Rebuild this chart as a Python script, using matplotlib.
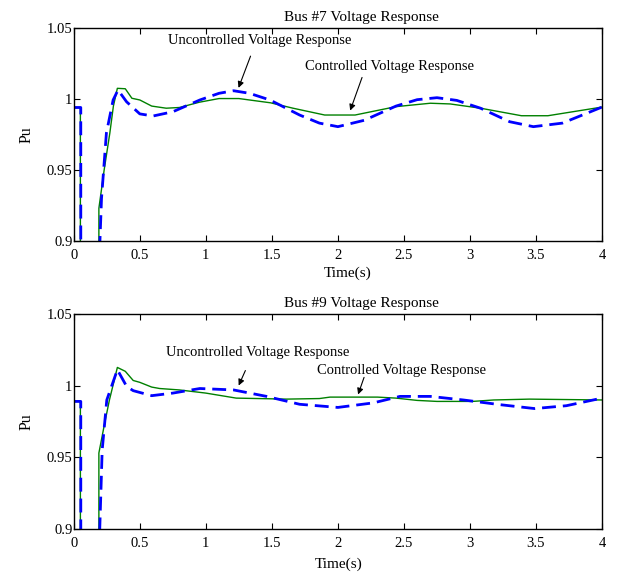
import matplotlib
matplotlib.use("Agg")
import matplotlib.pyplot as plt

# Bus #7 data
t7_ctrl = [0, 0.05, 0.0501, 0.19, 0.1901, 0.23, 0.273, 0.30, 0.33, 0.39, 0.44, 0.5, 0.59, 0.7, 0.8,
           0.95, 1.1, 1.25, 1.49, 1.66, 1.9, 2.13, 2.44, 2.7, 2.85, 3.08, 3.39, 3.59, 4.0]
v7_ctrl = [0.994, 0.994, 0.85, 0.85, 0.923, 0.950, 0.976, 0.995, 1.0075, 1.0072, 1.0005, 0.9993, 0.995, 0.9935, 0.994,
           0.9977, 1.0003, 1.0003, 0.9973, 0.9935, 0.9887, 0.9887, 0.9946, 0.997, 0.9965, 0.9935, 0.9882, 0.9882, 0.9943]
t7_unc = [0, 0.053, 0.0531, 0.19, 0.19, 0.21, 0.247, 0.298, 0.335, 0.4, 0.5, 0.6, 0.75, 0.955, 1.1,
          1.21, 1.33, 1.485, 1.71, 1.86, 2.0, 2.2, 2.44, 2.6, 2.75, 2.9, 3.08, 3.3, 3.48, 3.7, 4.0]
v7_unc = [0.994, 0.994, 0.85, 0.85, 0.88, 0.93, 0.976, 0.9993, 1.0063, 0.998, 0.9895, 0.988, 0.991, 0.9993, 1.004,
          1.0058, 1.004, 0.9993, 0.9887, 0.983, 0.9805, 0.985, 0.995, 0.9995, 1.0009, 0.999, 0.9935, 0.984, 0.9805, 0.983, 0.9943]

# Bus #9 data
t9_ctrl = [0, 0.05, 0.0501, 0.19, 0.1901, 0.23, 0.27, 0.33, 0.39, 0.45, 0.5, 0.59, 0.65, 0.8, 1.0, 1.23,
           1.61, 1.86, 1.94, 2.3, 2.44, 2.6, 2.75, 3.02, 3.18, 3.45, 4.0]
v9_ctrl = [0.989, 0.989, 0.85, 0.85, 0.953, 0.972, 0.99, 1.0127, 1.010, 1.0036, 1.0023, 0.999, 0.998, 0.997, 0.9948, 0.9913,
           0.9906, 0.991, 0.992, 0.992, 0.9913, 0.9897, 0.989, 0.989, 0.990, 0.9906, 0.990]
t9_unc = [0, 0.053, 0.0531, 0.19, 0.19, 0.215, 0.25, 0.33, 0.4, 0.45, 0.59, 0.75, 0.955, 1.21, 1.46,
          1.71, 2.0, 2.27, 2.47, 2.7, 2.95, 3.23, 3.49, 3.73, 4.0]
v9_unc = [0.989, 0.989, 0.85, 0.85, 0.88, 0.955, 0.99, 1.0111, 0.9995, 0.9965, 0.993, 0.9948, 0.998, 0.997, 0.9925,
          0.987, 0.9848, 0.988, 0.9925, 0.9925, 0.990, 0.9867, 0.984, 0.986, 0.9913]

titles = ["Bus #7 Voltage Response", "Bus #9 Voltage Response"]
x_ticks = [0, 0.5, 1, 1.5, 2, 2.5, 3, 3.5, 4]
y_ticks = [0.9, 0.95, 1, 1.05]

plt.rcParams['font.family'] = ['Liberation Serif', 'DejaVu Serif']

fig = plt.figure(figsize=(6.2, 5.72), dpi=100)
ax1 = fig.add_axes([0.119, 0.5787, 0.852, 0.3724])
ax2 = fig.add_axes([0.119, 0.0752, 0.852, 0.3759])

panels = [
    (ax1, t7_ctrl, v7_ctrl, t7_unc, v7_unc,
     (1.41, 1.0415, 1.346, 1.032, 1.24, 1.006),
     (2.39, 1.0227, 2.19, 1.017, 2.086, 0.990), 0.519, 3),
    (ax2, t9_ctrl, v9_ctrl, t9_unc, v9_unc,
     (1.39, 1.0232, 1.308, 1.0123, 1.24, 0.9983),
     (2.485, 1.0104, 2.205, 1.0076, 2.146, 0.992), 0.502, 5),
]

for i, (ax, tc, vc, tu, vu, ann_u, ann_c, xl_x, xl_pad) in enumerate(panels):
    ax.plot(tc, vc, color='#008000', linewidth=1.0)
    ax.plot(tu, vu, color='#0000ff', linewidth=2.0, linestyle=(0, (5, 2.5)))
    ax.set_xlim(0, 4)
    ax.set_ylim(0.9, 1.05)
    ax.set_xticks(x_ticks)
    ax.set_xticklabels(['0', '0.5', '1', '1.5', '2', '2.5', '3', '3.5', '4'])
    ax.set_yticks(y_ticks)
    ax.set_yticklabels(['0.9', '0.95', '1', '1.05'])
    ax.tick_params(direction='in', top=True, right=True, labelsize=10.5, length=4)
    ax.tick_params(axis='x', pad=6)
    ax.tick_params(axis='y', pad=1)
    for s in ax.spines.values():
        s.set_linewidth(1.0)
    ax.set_title(titles[i], fontsize=11, x=0.545, pad=5)
    ax.set_xlabel("Time(s)", fontsize=11, labelpad=xl_pad, x=xl_x)
    ax.set_ylabel("Pu", fontsize=11.5, labelpad=9)

    tx, ty, ax0, ay0, ax1_, ay1 = ann_u
    ax.text(tx, ty, "Uncontrolled Voltage Response", fontsize=10.5, ha='center', va='center')
    ax.annotate("", xy=(ax1_, ay1), xytext=(ax0, ay0),
                arrowprops=dict(arrowstyle='-|>', color='black', lw=0.8, mutation_scale=9))
    tx, ty, ax0, ay0, ax1_, ay1 = ann_c
    ax.text(tx, ty, "Controlled Voltage Response", fontsize=10.5, ha='center', va='center')
    ax.annotate("", xy=(ax1_, ay1), xytext=(ax0, ay0),
                arrowprops=dict(arrowstyle='-|>', color='black', lw=0.8, mutation_scale=9))

fig.savefig("out.png", dpi=100)
